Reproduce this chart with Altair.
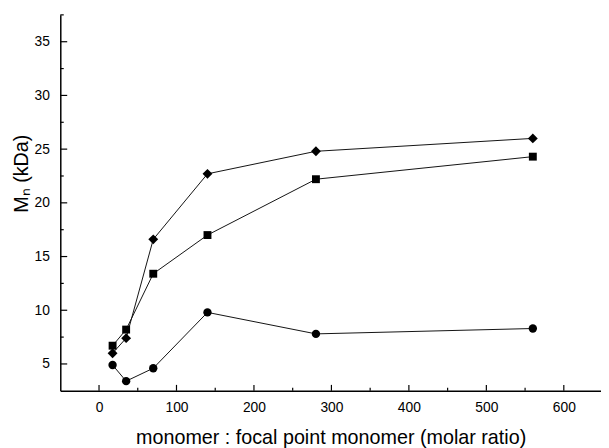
import altair as alt
import pandas as pd

# --- data ---
ratio = [17.5, 35, 70, 140, 280, 560]
mn_diamond = [6.0, 7.4, 16.6, 22.7, 24.8, 26.0]
mn_square = [6.7, 8.2, 13.4, 17.0, 22.2, 24.3]
mn_circle = [4.9, 3.4, 4.6, 9.8, 7.8, 8.3]

series_names = ["circle", "square", "diamond"]
series_values = [mn_circle, mn_square, mn_diamond]
series_sizes = [72, 64, 100]

y_major = [5, 10, 15, 20, 25, 30, 35]
y_minor = [7.5, 12.5, 17.5, 22.5, 27.5, 32.5, 37.5]
x_major = [0, 100, 200, 300, 400, 500, 600]
x_minor = [50, 150, 250, 350, 450, 550]

rows = []
for name, vals in zip(series_names, series_values):
    for r, v in zip(ratio, vals):
        rows.append({"ratio": r, "mn": v, "series": name})
df = pd.DataFrame(rows)

FONT = "Liberation Sans"
X_MIN, X_MAX = -50, 648
Y_MIN, Y_MAX = 2.5, 37.5
xscale = alt.Scale(domain=[X_MIN, X_MAX], nice=False, zero=False)
yscale = alt.Scale(domain=[Y_MIN, Y_MAX], nice=False, zero=False)

xaxis = alt.Axis(
    values=x_major, ticks=False, grid=False,
    domainColor="black", domainWidth=1.5,
    labelFont=FONT, labelFontSize=14, labelColor="black", labelPadding=10,
    title="monomer : focal point monomer (molar ratio)",
    titleFont=FONT, titleFontSize=20, titleFontWeight="normal", titleColor="black",
    titleY=53, titleBaseline="alphabetic",
)
yaxis = alt.Axis(
    values=y_major, ticks=False, grid=False,
    domainColor="black", domainWidth=1.5,
    labelFont=FONT, labelFontSize=14, labelColor="black", labelPadding=11,
    title="Mₙ (kDa)",
    titleFont=FONT, titleFontSize=20, titleFontWeight="normal", titleColor="black",
    titleX=-33.5, titleY=160.5, titleAngle=270, titleBaseline="alphabetic", titleAlign="center",
)

X = alt.X("ratio:Q", scale=xscale, axis=xaxis)
Y = alt.Y("mn:Q", scale=yscale, axis=yaxis)

lines = alt.Chart(df).mark_line(color="#111111", strokeWidth=1).encode(
    x=X, y=Y, detail="series:N"
)

layers = [lines]
for name, sz in zip(series_names, series_sizes):
    layers.append(
        alt.Chart(df).transform_filter(alt.datum.series == name)
        .mark_point(filled=True, color="black", opacity=1, shape=name, size=sz)
        .encode(x=X, y=Y)
    )

def tick_df(vals):
    return pd.DataFrame({"v": vals})

# inward ticks on the y axis
layers.append(
    alt.Chart(tick_df(y_major)).mark_rule(color="black", strokeWidth=1.2, x2Offset=7)
    .encode(y=alt.Y("v:Q", scale=yscale), x=alt.datum(X_MIN), x2=alt.datum(X_MIN))
)
layers.append(
    alt.Chart(tick_df(y_minor)).mark_rule(color="black", strokeWidth=1.2, x2Offset=3.5)
    .encode(y=alt.Y("v:Q", scale=yscale), x=alt.datum(X_MIN), x2=alt.datum(X_MIN))
)
# inward ticks on the x axis
layers.append(
    alt.Chart(tick_df(x_major)).mark_rule(color="black", strokeWidth=1.2, y2Offset=-6)
    .encode(x=alt.X("v:Q", scale=xscale), y=alt.datum(Y_MIN), y2=alt.datum(Y_MIN))
)
layers.append(
    alt.Chart(tick_df(x_minor)).mark_rule(color="black", strokeWidth=1.2, y2Offset=-3)
    .encode(x=alt.X("v:Q", scale=xscale), y=alt.datum(Y_MIN), y2=alt.datum(Y_MIN))
)

chart = alt.layer(*layers).properties(
    width=548, height=381,
    autosize=alt.AutoSizeParams(type="none"),
    padding={"left": 53, "top": 4, "right": 0, "bottom": 55},
    background="white",
).configure_view(stroke=None)

chart.save("out.html", embed_options={"renderer": "svg", "actions": False})
